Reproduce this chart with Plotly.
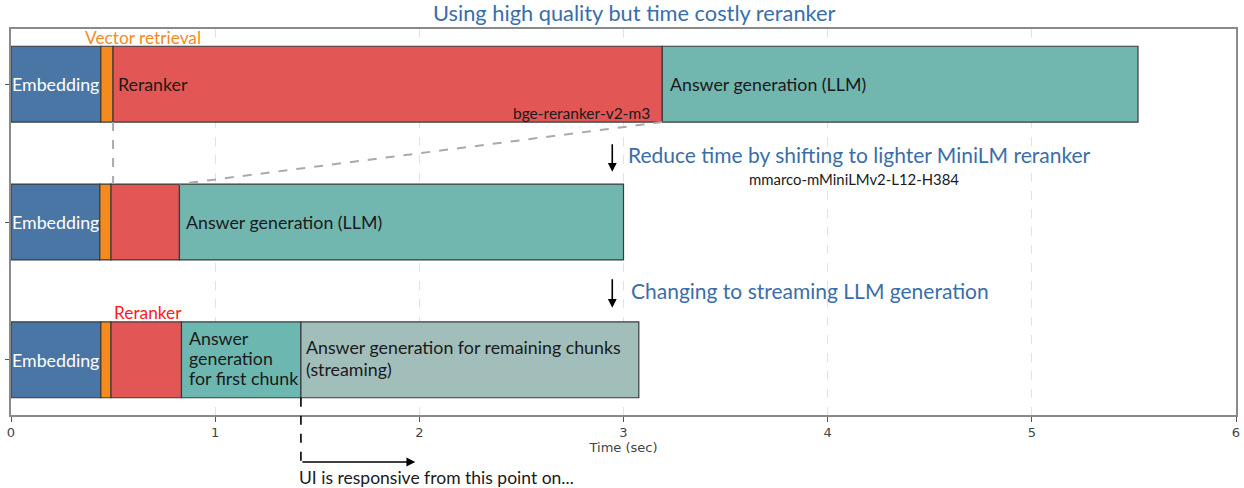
import plotly.graph_objects as go
import numpy as np

# Rows (y positions): 2 = bge reranker, 1 = MiniLM reranker, 0 = streaming
rows = [2, 1, 0]

# Durations in seconds per stage, per row (top, middle, bottom)
embedding_sec = [0.44, 0.435, 0.44]
vector_sec = [0.06, 0.055, 0.05]
reranker_sec = [2.69, 0.335, 0.345]
llm_sec = [2.33, 2.175, 0.0]
first_chunk_sec = [0.0, 0.0, 0.585]
remaining_sec = [0.0, 0.0, 1.655]

stage_names = ["Embedding", "Vector retrieval", "Reranker", "Answer generation (LLM)",
               "Answer generation for first chunk", "Answer generation for remaining chunks"]
stage_values = [embedding_sec, vector_sec, reranker_sec, llm_sec, first_chunk_sec, remaining_sec]
stage_colors = ["#4a76a6", "#f58a1f", "#e35656", "#72b6b0", "#6cb7af", "#a1bebb"]

x_ticks = [0, 1, 2, 3, 4, 5, 6]
x_range = [0, 6]
y_range = [-0.4, 2.4]
bar_w = 0.55

vals = np.array(stage_values)            # stages x rows
ends = np.cumsum(vals, axis=0)
starts = ends - vals

fig = go.Figure()
for i, name in enumerate(stage_names):
    mask = vals[i] > 0
    fig.add_trace(go.Bar(
        y=np.array(rows)[mask], x=vals[i][mask], base=starts[i][mask],
        orientation="h", name=name, width=bar_w,
        marker=dict(color=stage_colors[i], line=dict(color="#3a3a3a", width=1.2)),
        showlegend=False, hoverinfo="skip"))

FONT = "Lato"
ann = []

def txt(x, y, s, size, color="#1a1a1a", xanchor="left", yanchor="middle", align="left",
        xref="x", yref="y", xshift=0):
    ann.append(dict(x=x, y=y, xref=xref, yref=yref, text=s, showarrow=False,
                    xanchor=xanchor, yanchor=yanchor, align=align, xshift=xshift,
                    font=dict(family=FONT, size=size, color=color)))

LBL = 17.8
# Embedding labels
for r in range(3):
    txt(starts[0][r], rows[r], "Embedding", LBL, "white", xshift=-1)
# Row top labels
txt(ends[1][0] + 0.012, rows[0], "Reranker", LBL)
txt(ends[2][0] + 0.03, rows[0], "Answer generation (LLM)", LBL)
txt(ends[2][0] - 0.05, rows[0] - 0.21, "bge-reranker-v2-m3", 15.5, xanchor="right")
txt(0.645, rows[0] + 0.342, "Vector retrieval", 17.3, "#f58a1f", xanchor="center")
# Middle row
txt(ends[2][1] + 0.02, rows[1], "Answer generation (LLM)", LBL)
# Bottom row (line by line)
first_lines = ["Answer", "generation", "for first chunk"]
first_offsets = [0.159, 0.0145, -0.13]
for s, dy in zip(first_lines, first_offsets):
    txt(ends[3][2] + 0.025, rows[2] + dy, s, LBL)
rem_lines = ["Answer generation for remaining chunks", "(streaming)"]
rem_offsets = [0.094, -0.065]
for s, dy in zip(rem_lines, rem_offsets):
    txt(ends[4][2] + 0.015, rows[2] + dy, s, LBL)
txt((starts[2][2] + ends[2][2]) / 2 + 0.01, rows[2] + 0.342, "Reranker", 17.3, "#ff1a1a", xanchor="center")

# Step annotations
txt(3.01, 1.487, "Reduce time by shifting to lighter MiniLM reranker", 21, "#3a6ea8")
txt(4.13, 1.313, "mmarco-mMiniLMv2-L12-H384", 14.9, xanchor="center")
txt(3.025, 0.501, "Changing to streaming LLM generation", 21, "#3a6ea8")
# Title
txt(0.509, 1.043, "Using high quality but time costly reranker", 21.8, "#3a6ea8",
    xanchor="center", xref="paper", yref="paper")

# Down arrows
for (xa, y0, y1) in [(2.945, 1.574, 1.364), (2.945, 0.596, 0.378)]:
    ann.append(dict(x=xa, y=y1, ax=xa, ay=y0, xref="x", yref="y", axref="x", ayref="y",
                    text="", showarrow=True, arrowhead=2, arrowsize=1.1, arrowwidth=1.6,
                    arrowcolor="black"))

# Responsive point (below the axis -> paper y)
resp_x = ends[4][2]
y_arrow_paper = -0.1218
ann.append(dict(x=1.98, y=y_arrow_paper, ax=resp_x, ay=0, xref="x", yref="paper",
                axref="x", ayref="pixel",
                text="", showarrow=True, arrowhead=2, arrowsize=1.1, arrowwidth=1.6,
                arrowcolor="black"))
txt(resp_x - 0.02, -0.163, "UI is responsive from this point on...", 17.5, yref="paper")

shapes = []
bar_bot_top = rows[0] - bar_w / 2
bar_top_mid = rows[1] + bar_w / 2
shapes.append(dict(type="line", xref="x", yref="y", x0=ends[1][0], x1=ends[1][0],
                   y0=bar_bot_top, y1=bar_top_mid, line=dict(color="#aaaaaa", width=2, dash="dash")))
shapes.append(dict(type="line", xref="x", yref="y", x0=ends[2][0], x1=ends[2][1],
                   y0=bar_bot_top, y1=bar_top_mid, line=dict(color="#aaaaaa", width=2, dash="dash")))
# Vertical dashed black line (extends below the axis) - paper coordinates
px = resp_x / x_range[1]
py0 = (rows[2] - bar_w / 2 - y_range[0]) / (y_range[1] - y_range[0])
shapes.append(dict(type="line", xref="paper", yref="paper", x0=px, x1=px, y0=py0, y1=y_arrow_paper,
                   line=dict(color="black", width=1.6, dash="dash")))

fig.update_layout(
    width=1244, height=488,
    margin=dict(l=11, r=8, t=29, b=73, autoexpand=False),
    plot_bgcolor="white", paper_bgcolor="white",
    barmode="overlay",
    annotations=ann, shapes=shapes,
    xaxis=dict(range=x_range, tickvals=x_ticks, showgrid=True, gridcolor="#e2e2e2",
               griddash="dash", gridwidth=1, zeroline=False, automargin=False,
               showline=True, mirror=True, linecolor="#8a8a8a", linewidth=1.6,
               ticks="outside", ticklen=5, tickcolor="#555", tickwidth=1.2,
               ticklabeloverflow="allow",
               tickfont=dict(family="DejaVu Sans", size=13, color="#444"),
               title=dict(text="Time (sec)", standoff=2,
                          font=dict(family="DejaVu Sans", size=13, color="#444"))),
    yaxis=dict(range=y_range, tickvals=rows, showticklabels=False, showgrid=False,
               zeroline=False, automargin=False,
               showline=True, mirror=True, linecolor="#8a8a8a", linewidth=1.6,
               ticks="outside", ticklen=4, tickcolor="#555"),
)

fig.write_html("out.html", config={"displayModeBar": False},
               post_script="document.body.style.margin='0';")
